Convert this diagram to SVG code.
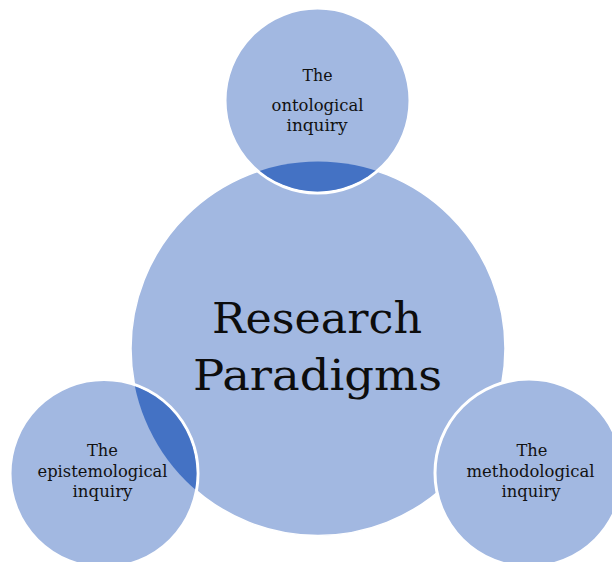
<svg xmlns="http://www.w3.org/2000/svg" width="612" height="562" viewBox="0 0 612 562">
  <style>
    .fill { fill: #A2B8E1; }
    .ring { fill: #A2B8E1; stroke: #FFFFFF; stroke-width: 3; }
    .lens { fill: #4472C4; }
    .small { font-family: "DejaVu Serif", "Liberation Serif", serif; font-size: 16px; fill: #111111; text-anchor: middle; }
    .title { font-family: "DejaVu Serif", "Liberation Serif", serif; font-size: 42px; fill: #0d0d0d; text-anchor: middle; }
  </style>
  <defs>
    <clipPath id="clipTop"><circle cx="317.5" cy="100.5" r="91"/></clipPath>
    <clipPath id="clipLeft"><circle cx="104" cy="473.5" r="92.5"/></clipPath>
  </defs>
  <rect width="612" height="562" fill="#FFFFFF"/>

  <g id="node-center">
    <circle cx="318" cy="348.5" r="187" class="fill" stroke="#FFFFFF" stroke-width="1.5"/>
  </g>

  <g id="node-ontological">
    <circle cx="317.5" cy="100.5" r="92.5" class="ring"/>
    <circle cx="318" cy="348.5" r="187" class="lens" clip-path="url(#clipTop)"/>
    <text class="small" x="317.5" y="81" textLength="30" lengthAdjust="spacingAndGlyphs">The</text>
    <text class="small" x="317.5" y="110.5" textLength="92" lengthAdjust="spacingAndGlyphs">ontological</text>
    <text class="small" x="317" y="131" textLength="61" lengthAdjust="spacingAndGlyphs">inquiry</text>
  </g>

  <g id="node-epistemological">
    <circle cx="104" cy="473.5" r="94" class="ring"/>
    <circle cx="318" cy="348.5" r="187" class="lens" clip-path="url(#clipLeft)"/>
    <text class="small" x="102.5" y="456" textLength="31" lengthAdjust="spacingAndGlyphs">The</text>
    <text class="small" x="102.5" y="477" textLength="130" lengthAdjust="spacingAndGlyphs">epistemological</text>
    <text class="small" x="102.5" y="497" textLength="60" lengthAdjust="spacingAndGlyphs">inquiry</text>
  </g>

  <g id="node-methodological">
    <circle cx="529" cy="473" r="94" class="ring"/>
    <text class="small" x="532" y="456" textLength="31" lengthAdjust="spacingAndGlyphs">The</text>
    <text class="small" x="530.5" y="477" textLength="128" lengthAdjust="spacingAndGlyphs">methodological</text>
    <text class="small" x="531" y="497" textLength="59" lengthAdjust="spacingAndGlyphs">inquiry</text>
  </g>

  <g id="title">
    <text class="title" x="317" y="333" textLength="210" lengthAdjust="spacingAndGlyphs">Research</text>
    <text class="title" x="317.5" y="390" textLength="249" lengthAdjust="spacingAndGlyphs">Paradigms</text>
  </g>

  <g id="connectors"></g>
</svg>
